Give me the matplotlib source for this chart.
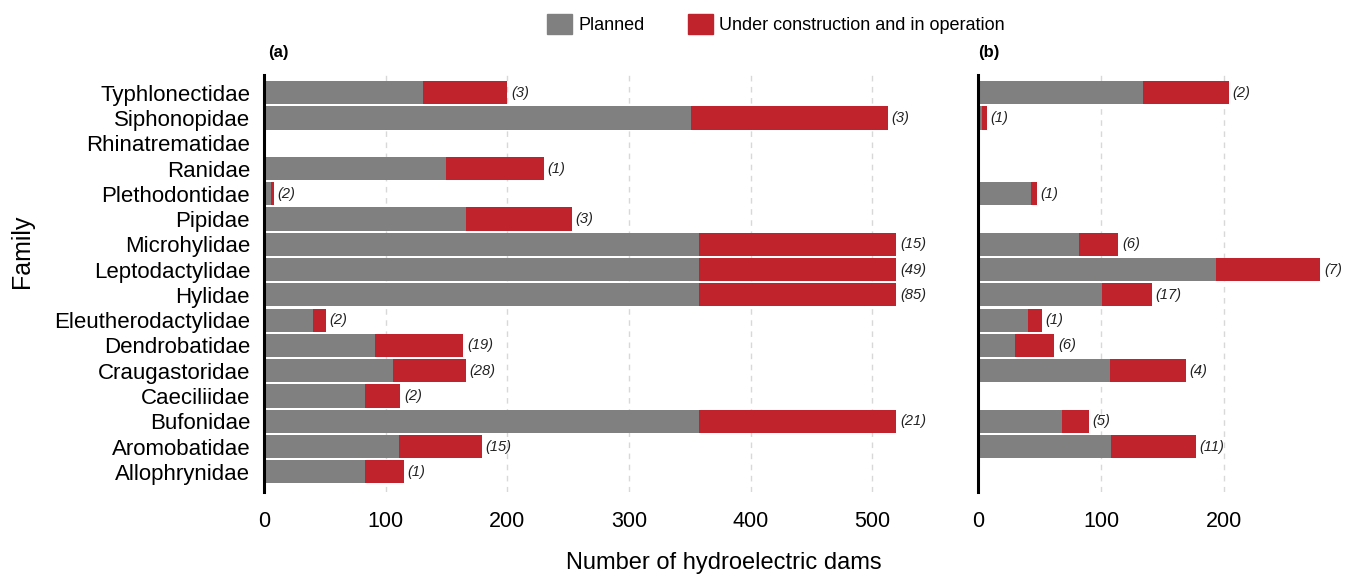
import matplotlib
matplotlib.use('Agg')
from matplotlib import pyplot as plt
from matplotlib.patches import Patch
import numpy as np

families = ['Typhlonectidae', 'Siphonopidae', 'Rhinatrematidae', 'Ranidae',
            'Plethodontidae', 'Pipidae', 'Microhylidae', 'Leptodactylidae',
            'Hylidae', 'Eleutherodactylidae', 'Dendrobatidae', 'Craugastoridae',
            'Caeciliidae', 'Bufonidae', 'Aromobatidae', 'Allophrynidae']

# panel (a): planned and total (planned + under construction/in operation)
planned_a = [131, 351, 0, 150, 6, 166, 358, 358, 358, 40, 91, 106, 83, 358, 111, 83]
total_a = [200, 513, 0, 230, 8, 253, 520, 520, 520, 51, 164, 166, 112, 520, 179, 115]
counts_a = ['3', '3', '', '1', '2', '3', '15', '49', '85', '2', '19', '28', '2', '21', '15', '1']

# panel (b)
planned_b = [134, 3, 0, 0, 43, 0, 82, 193, 101, 41, 30, 107, 0, 68, 108, 0]
total_b = [204, 7, 0, 0, 48, 0, 114, 278, 141, 52, 62, 169, 0, 90, 177, 0]
counts_b = ['2', '1', '', '', '1', '', '6', '7', '17', '1', '6', '4', '', '5', '11', '']

grey = '#808080'
red = '#C1232C'

plt.rcParams['font.family'] = ['Liberation Sans', 'DejaVu Sans']

fig = plt.figure(figsize=(13.54, 5.77), dpi=100)
ax = fig.add_axes([264/1354, 1-492/577, 641/1354, 417/577])
ax2 = fig.add_axes([978/1354, 1-492/577, 352/1354, 417/577])

y = np.arange(len(families))


def draw(a, planned, total, counts, xmax, ticks):
    planned = np.array(planned)
    total = np.array(total)
    a.barh(y, planned, height=0.92, color=grey, zorder=2)
    a.barh(y, total - planned, left=planned, height=0.92, color=red, zorder=2)
    for yi, t, c in zip(y, total, counts):
        if c:
            a.text(t + 3, yi, '(' + c + ')', va='center', ha='left',
                   fontsize=10.5, style='italic', color='#222222')
    a.set_xlim(0, xmax)
    a.set_ylim(15.8, -0.7)
    a.set_xticks(ticks)
    for t in ticks[1:]:
        a.axvline(t, color='#d8d8d8', ls=(0, (4, 4)), lw=1, zorder=1)
    for s in ['top', 'right', 'bottom']:
        a.spines[s].set_visible(False)
    a.spines['left'].set_linewidth(2.2)
    a.tick_params(length=0)
    a.tick_params(axis='x', pad=14, labelsize=15.5)


draw(ax, planned_a, total_a, counts_a, 527, [0, 100, 200, 300, 400, 500])
draw(ax2, planned_b, total_b, counts_b, 286, [0, 100, 200])

ax.set_yticks(y)
ax.set_yticklabels(families, fontsize=16)
ax.tick_params(axis='y', pad=10)
ax2.set_yticks([])

fig.text(268/1354, 1-52/577, '(a)', fontsize=12, weight='bold', va='center')
fig.text(978/1354, 1-52/577, '(b)', fontsize=12, weight='bold', va='center')
fig.text(22/1354, 1-251/577, 'Family', fontsize=18, rotation=90, va='center', ha='center')
fig.text(724/1354, 1-563/577, 'Number of hydroelectric dams', fontsize=17, va='center', ha='center')

handles = [Patch(color=grey, label='Planned'),
           Patch(color=red, label='Under construction and in operation')]
fig.legend(handles=handles, loc='center', bbox_to_anchor=(776/1354, 1-24/577), ncol=2,
           frameon=False, fontsize=13, handlelength=1.38, handleheight=1.38,
           handletextpad=0.35, columnspacing=2.4)

fig.savefig('out.png', dpi=100)
